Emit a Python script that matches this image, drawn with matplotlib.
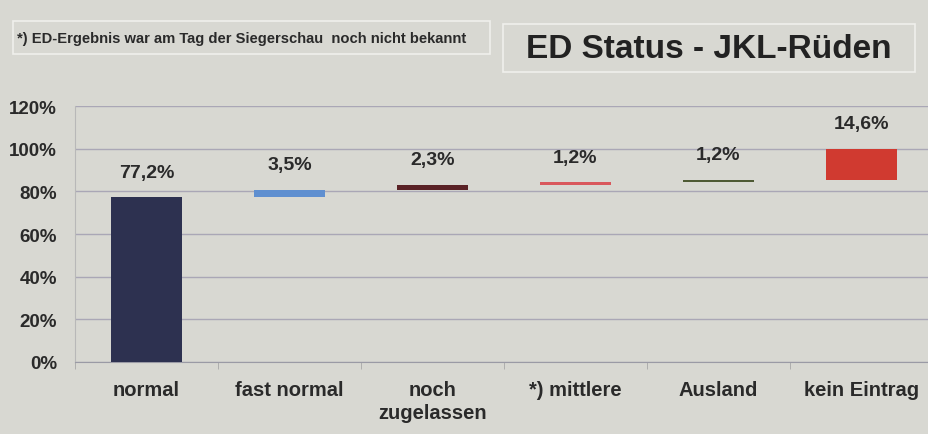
import matplotlib
matplotlib.use("Agg")
import matplotlib.pyplot as plt
from matplotlib.patches import Rectangle
import numpy as np

categories = ["normal", "fast normal", "noch\nzugelassen", "*) mittlere", "Ausland", "kein Eintrag"]
values = [77.2, 3.5, 2.3, 1.2, 1.2, 14.6]
value_labels = ["77,2%", "3,5%", "2,3%", "1,2%", "1,2%", "14,6%"]
colors = ["#2d3150", "#5f8fd0", "#5a2226", "#d9585c", "#4e5a34", "#d03a30"]
yticks = [0, 20, 40, 60, 80, 100, 120]
title = "ED Status - JKL-Rüden"
footnote = "*) ED-Ergebnis war am Tag der Siegerschau  noch nicht bekannt"

plt.rcParams['font.family'] = ['Liberation Sans', 'DejaVu Sans']
bg = "#d8d8d2"
txt = "#2a2a2a"

fig = plt.figure(figsize=(9.29, 4.35), dpi=100, facecolor=bg)
ax = fig.add_axes([75/929, 72/435, 858/929, (363-107)/435])
ax.set_facecolor(bg)

bottoms = np.concatenate([[0], np.cumsum(values)[:-1]])
x = np.arange(len(categories))
ax.bar(x, values, bottom=bottoms, width=0.5, color=colors, zorder=3)
for xi, b, v, lab in zip(x, bottoms, values, value_labels):
    ax.annotate(lab, (xi, b + v), xytext=(0, 18), textcoords="offset points",
                ha="center", va="center", fontsize=14, fontweight="bold", color=txt)

ax.set_xlim(-0.5, len(categories) - 0.5)
ax.set_ylim(0, 120)
ax.set_yticks(yticks)
ax.set_yticklabels([f"{t}%" for t in yticks])
ax.set_xticks(x)
ax.set_xticklabels(categories, linespacing=1.25)
ax.tick_params(axis="y", length=0, pad=13, labelsize=13.5, labelcolor=txt)
ax.tick_params(axis="x", length=0, pad=13, labelsize=14.5, labelcolor=txt)
for lab in ax.get_xticklabels() + ax.get_yticklabels():
    lab.set_fontweight("bold")
ax.set_xticks(np.arange(-0.5, len(categories), 1), minor=True)
ax.tick_params(axis="x", which="minor", length=5, color="#a8a8a8", direction="out")
ax.grid(axis="y", color="#aaa7b6", linewidth=1.0, zorder=0)
for s in ["top", "right"]:
    ax.spines[s].set_visible(False)
ax.spines["left"].set_color("#b8b8b8")
ax.spines["bottom"].set_color("#9a9aa5")

# footnote box
fig.patches.append(Rectangle((13/929, 1 - 55/435), (490-13)/929, 33/435, transform=fig.transFigure,
                             facecolor="none", edgecolor="#f0f0ec", linewidth=1.2))
fig.text(17/929, 1 - 39/435, footnote, fontsize=10.6, fontweight="bold", color=txt,
         ha="left", va="center")
# title box
fig.patches.append(Rectangle((503/929, 1 - 73/435), (915-503)/929, 48/435, transform=fig.transFigure,
                             facecolor="none", edgecolor="#f0f0ec", linewidth=1.2))
fig.text(709/929, 1 - 50/435, title, fontsize=24, fontweight="bold", color="#222222",
         ha="center", va="center")

fig.savefig("out.png", dpi=100, facecolor=bg)
